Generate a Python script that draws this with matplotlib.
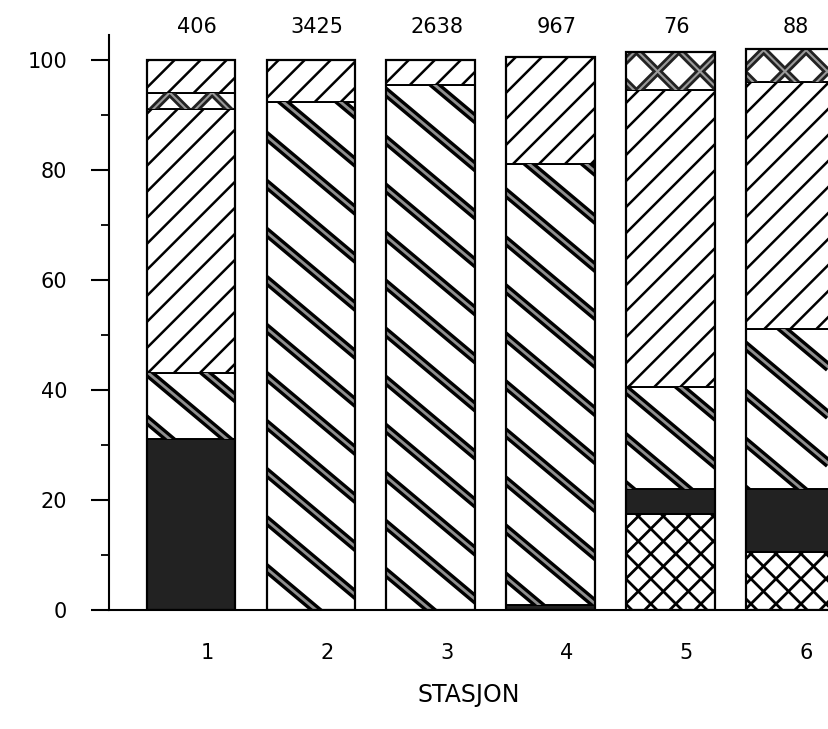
import numpy as np
import matplotlib
matplotlib.use('Agg')
import matplotlib.pyplot as plt
from matplotlib.collections import LineCollection
from matplotlib.transforms import IdentityTransform, ScaledTranslation

# data (percent per station)
stations = ['1', '2', '3', '4', '5', '6']
totals = [406, 3425, 2638, 967, 76, 88]
crossed = [0, 0, 0, 0, 17.5, 10.5]
dark = [31, 0, 0, 1, 4.5, 11.5]
banded = [12, 92.4, 95.5, 80, 18.5, 29]
slashed = [48, 7.6, 4.5, 19.5, 54, 45]
bigx = [3, 0, 0, 0, 7, 6]
topslash = [6, 0, 0, 0, 0, 0]

fig = plt.figure(figsize=(8.29, 7.29), dpi=100)
ax = fig.add_axes([0.1315, 0.1632, 0.8685, 0.7888])
x = np.arange(1, len(stations) + 1)
ax.set_xlim(0.3155, 6.325)
ax.set_ylim(0, 104.5)
w = 0.74


def hatch(patch, angle, step, lw, color='black', z=2):
    # draw parallel lines (pixel spacing) clipped to a bar patch
    bb = patch.get_window_extent()
    if bb.height < 0.5:
        return
    a = np.deg2rad(angle)
    d = np.array([np.cos(a), np.sin(a)])
    n = np.array([-np.sin(a), np.cos(a)])
    corners = np.array([[bb.x0, bb.y0], [bb.x1, bb.y0], [bb.x0, bb.y1], [bb.x1, bb.y1]])
    proj = corners @ n
    L = np.hypot(bb.width, bb.height)
    cen = np.array([(bb.x0 + bb.x1) / 2, (bb.y0 + bb.y1) / 2])
    segs = []
    for k in np.arange(np.floor(proj.min() / step) - 1, np.ceil(proj.max() / step) + 2):
        p = cen + (k * step - cen @ n) * n
        segs.append([p - L * d, p + L * d])
    lc = LineCollection(segs, colors=color, linewidths=lw,
                        transform=IdentityTransform(), zorder=z)
    ax.add_collection(lc, autolim=False)
    lc.set_clip_path(patch)


def stack(vals, bottom, face, styles):
    bars = ax.bar(x, vals, w, bottom=bottom, color=face, edgecolor='black',
                  linewidth=1.4, zorder=1)
    for b, v in zip(bars, vals):
        if v <= 0:
            continue
        for st in styles:
            hatch(b, *st)
    return bottom + np.array(vals)


bottom = np.zeros(len(stations))
bottom = stack(crossed, bottom, 'white', [(45, 17.7, 2.0), (-45, 17.7, 2.0)])
bottom = stack(dark, bottom, '#222222', [])
bottom = stack(banded, bottom, 'white', [(-40, 36.8, 6.8), (-40, 36.8, 2.0, '#8f8f8f', 2.5)])
bottom = stack(slashed, bottom, 'white', [(45, 18.4, 1.8)])
bottom = stack(bigx, bottom, 'white', [(45, 30, 5.5, '#222222'), (-45, 30, 5.5, '#222222'),
                                       (45, 30, 1.5, '#9a9a9a', 2.5), (-45, 30, 1.5, '#9a9a9a', 2.5)])
bottom = stack(topslash, bottom, 'white', [(45, 18.4, 1.8)])
ax.bar(x, bottom, w, fill=False, edgecolor='black', linewidth=1.6, zorder=3)

for xi, t in zip(x, totals):
    ax.text(xi + 0.05, 106, str(t), ha='center', va='center', fontsize=15, clip_on=False)

for s in ['top', 'right']:
    ax.spines[s].set_visible(False)
ax.spines['left'].set_linewidth(1.5)
ax.spines['bottom'].set_linewidth(1.5)

ax.set_yticks([0, 20, 40, 60, 80, 100])
ax.set_yticks([10, 30, 50, 70, 90], minor=True)
ax.tick_params(axis='y', which='major', length=13, width=1.5, pad=17, labelsize=15)
ax.tick_params(axis='y', which='minor', length=6, width=1.3)
ax.set_xticks(x)
ax.set_xticklabels(stations)
ax.tick_params(axis='x', length=0, pad=24, labelsize=15)
for lab in ax.get_xticklabels():
    lab.set_transform(lab.get_transform() + ScaledTranslation(0.16, 0, fig.dpi_scale_trans))
ax.set_xlabel('STASJON', fontsize=17, labelpad=14)

fig.savefig('out.png', dpi=100)
